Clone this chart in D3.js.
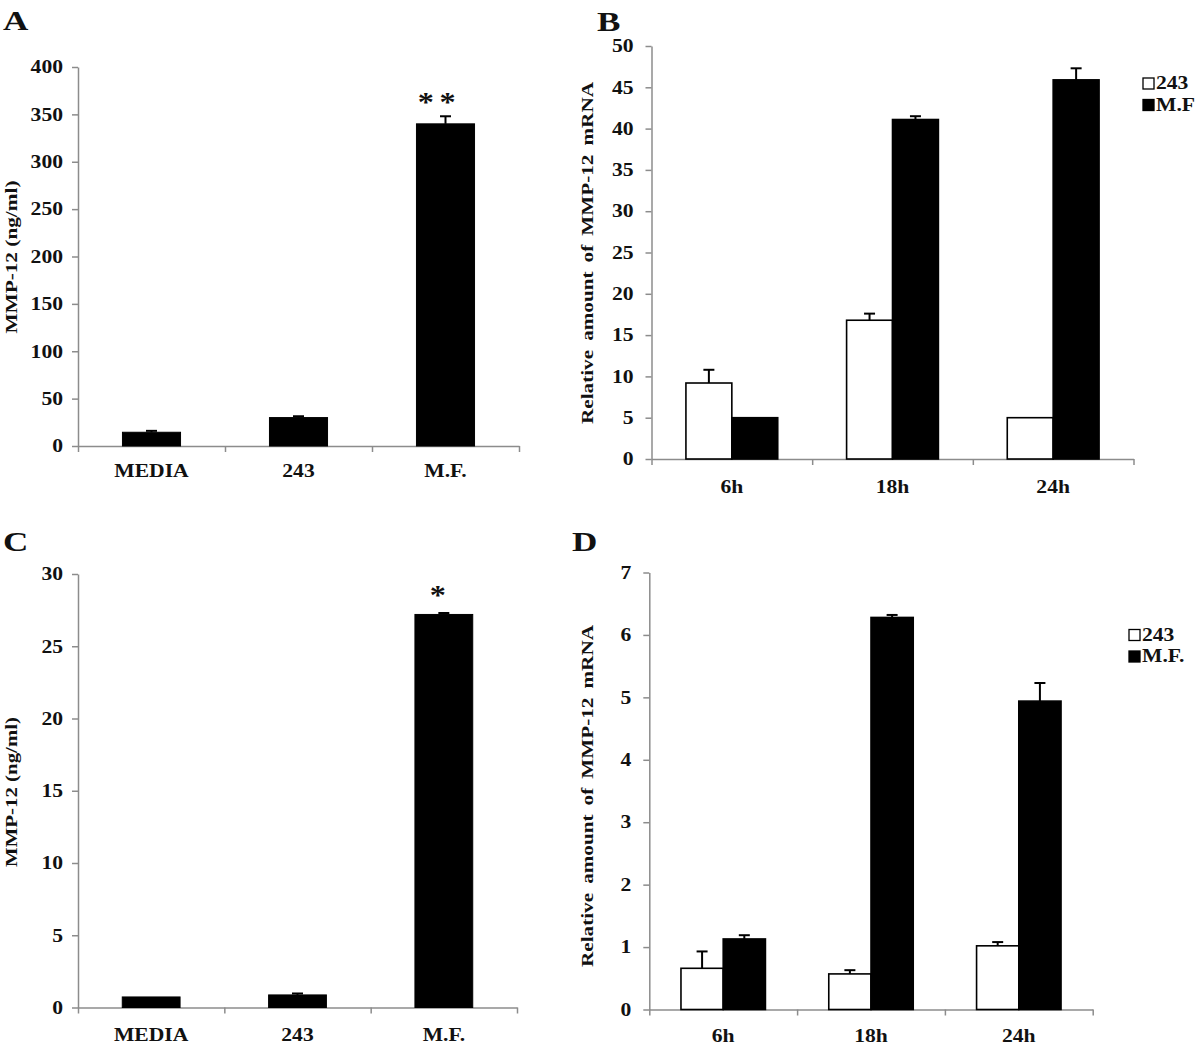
<!DOCTYPE html>
<html>
<head>
<meta charset="utf-8">
<script src="https://cdn.jsdelivr.net/npm/d3@7"></script>
<style>
  body { margin: 0; background: #fff; }
  svg { display: block; font-family: "Liberation Serif", "Times New Roman", serif; font-weight: bold; }
</style>
</head>
<body>
<svg></svg>
<script>
// MMP-12 protein (A, C) and mRNA (B, D)
const groups = ["MEDIA", "243", "M.F."];
const times = ["6h", "18h", "24h"];
const series = ["243", "M.F"];

const aMean = [14.5, 30, 340];
const aErr = [1.5, 1.4, 8];
const aTicks = [0, 50, 100, 150, 200, 250, 300, 350, 400];

const cMean = [0.73, 0.87, 27.2];
const cErr = [0, 0.1, 0.1];
const cTicks = [0, 5, 10, 15, 20, 25, 30];

const b243 = [9.2, 16.8, 5.0];
const b243Err = [1.6, 0.8, 0];
const bMF = [5.0, 41.1, 45.9];
const bMFErr = [0, 0.4, 1.4];
const bTicks = [0, 5, 10, 15, 20, 25, 30, 35, 40, 45, 50];

const d243 = [0.66, 0.57, 1.02];
const d243Err = [0.27, 0.06, 0.06];
const dMF = [1.13, 6.28, 4.94];
const dMFErr = [0.06, 0.04, 0.29];
const dTicks = [0, 1, 2, 3, 4, 5, 6, 7];

const svg = d3.select("svg").attr("width", 1200).attr("height", 1047);
const axisGrey = "#8c8c8c";

// the figure is stretched sideways, so widen glyphs a bit
function stretch(sel, k) {
  sel.each(function () {
    const w = this.getComputedTextLength();
    if (w > 0) {
      this.setAttribute("textLength", w * k);
      this.setAttribute("lengthAdjust", "spacingAndGlyphs");
    }
  });
}

function axes(p, cats) {
  const y = d3.scaleLinear().domain([0, p.max]).range([p.bottom, p.top]);
  const x0 = d3.scaleBand().domain(cats).range([p.left, p.right]);

  const gy = svg.append("g").attr("transform", `translate(${p.left},0)`)
    .call(d3.axisLeft(y).tickValues(p.ticks).tickFormat(d3.format("d"))
      .tickSize(6).tickSizeOuter(0).tickPadding(p.pad))
    .attr("font-family", null).attr("font-size", null);
  gy.selectAll("path, line").attr("stroke", axisGrey).attr("stroke-width", 1.5);
  gy.selectAll("text").attr("font-size", 18).attr("fill", "#111")
    .call(stretch, 1.2);

  // category boundaries get the tick marks
  const xb = d3.scaleLinear().domain([0, cats.length]).range([p.left, p.right]);
  const gb = svg.append("g").attr("transform", `translate(0,${p.bottom})`)
    .call(d3.axisBottom(xb).tickValues(d3.range(cats.length + 1)).tickFormat("").tickSize(6).tickSizeOuter(0));
  gb.selectAll("path, line").attr("stroke", axisGrey).attr("stroke-width", 1.5);

  const gx = svg.append("g").attr("transform", `translate(0,${p.bottom})`)
    .call(d3.axisBottom(x0).tickSize(0))
    .attr("font-family", null).attr("font-size", null);
  gx.select(".domain").remove();
  gx.selectAll("text").attr("font-size", 18).attr("fill", "#111")
    .attr("y", p.xOff).attr("dy", 0).call(stretch, 1.2);

  // panel letter
  const letter = svg.append("text").attr("x", p.letterX).attr("y", p.letterY)
    .attr("font-size", 27).attr("fill", "#111").text(p.letter);
  stretch(letter, 1.3);

  // y title
  svg.append("text")
    .attr("transform", `translate(${p.ylX},${p.ylY}) rotate(-90)`)
    .attr("text-anchor", "middle").attr("font-size", 17).attr("fill", "#111")
    .attr("word-spacing", p.wordSpacing || 0)
    .attr("textLength", p.ylLen).attr("lengthAdjust", "spacingAndGlyphs")
    .text(p.yLabel);

  return { x0, y };
}

function errBars(g, data, y) {
  g.selectAll("g.err").data(data.filter(d => d.e > 0)).join("g").attr("class", "err")
    .each(function (d) {
      const s = d3.select(this);
      s.append("line").attr("x1", d.cx).attr("x2", d.cx)
        .attr("y1", y(d.v)).attr("y2", y(d.v + d.e))
        .attr("stroke", "#000").attr("stroke-width", 2);
      s.append("line").attr("x1", d.cx - 5.5).attr("x2", d.cx + 5.5)
        .attr("y1", y(d.v + d.e)).attr("y2", y(d.v + d.e))
        .attr("stroke", "#000").attr("stroke-width", 2);
    });
}

function singlePanel(p, mean, err, star) {
  const { y } = axes(p, groups);
  const xb = d3.scaleBand().domain(groups).range([p.left, p.right])
    .paddingInner(0.605).paddingOuter(0.3025);
  const data = groups.map((k, i) => ({ k, v: mean[i], e: err[i], cx: xb(k) + xb.bandwidth() / 2 }));
  const g = svg.append("g");
  g.selectAll("rect").data(data).join("rect")
    .attr("x", d => xb(d.k)).attr("width", xb.bandwidth())
    .attr("y", d => y(d.v)).attr("height", d => y(0) - y(d.v))
    .attr("fill", "#000").attr("stroke", "#000").attr("stroke-width", 1);
  errBars(g, data, y);
  const last = data[data.length - 1];
  svg.append("text").attr("x", last.cx - 6).attr("y", p.starY)
    .attr("text-anchor", "middle").attr("font-size", 28).attr("fill", "#111")
    .attr("letter-spacing", star.length > 1 ? 5 : 0)
    .text(star).call(stretch, 1.15);
}

function groupedPanel(p, v243, e243, vMF, eMF, legendNames) {
  const { x0, y } = axes(p, times);
  const x1 = d3.scaleBand().domain(series).range([0, x0.bandwidth()])
    .paddingInner(0).paddingOuter(0.75);
  const fills = { "243": "#fff", "M.F": "#000" };
  const data = [];
  times.forEach((t, i) => {
    data.push({ t, s: "243", v: v243[i], e: e243[i] });
    data.push({ t, s: "M.F", v: vMF[i], e: eMF[i] });
  });
  data.forEach(d => d.cx = x0(d.t) + x1(d.s) + x1.bandwidth() / 2);
  const g = svg.append("g");
  g.selectAll("rect").data(data).join("rect")
    .attr("x", d => x0(d.t) + x1(d.s)).attr("width", x1.bandwidth())
    .attr("y", d => y(d.v)).attr("height", d => y(0) - y(d.v))
    .attr("fill", d => fills[d.s]).attr("stroke", "#000").attr("stroke-width", 1.6);
  errBars(g, data, y);

  const lg = svg.append("g").attr("transform", `translate(${p.legX},${p.legY})`);
  series.forEach((s, i) => {
    lg.append("rect").attr("x", 0).attr("y", i * 21.5 - 11).attr("width", 11).attr("height", 11)
      .attr("fill", fills[s]).attr("stroke", "#000").attr("stroke-width", 1.3);
    lg.append("text").attr("x", 13).attr("y", i * 21.5).attr("font-size", 18).attr("fill", "#111")
      .text(legendNames[i]).call(stretch, 1.2);
  });
}

singlePanel({
  left: 78, right: 519, top: 67, bottom: 446, max: 400, ticks: aTicks, pad: 9, xOff: 31,
  letter: "A", letterX: 3, letterY: 30, yLabel: "MMP-12 (ng/ml)", ylX: 17, ylY: 257, ylLen: 153,
  starY: 111
}, aMean, aErr, "**");

groupedPanel({
  left: 651.5, right: 1133.5, top: 46, bottom: 459, max: 50, ticks: bTicks, pad: 12, xOff: 34,
  letter: "B", letterX: 597, letterY: 31, yLabel: "Relative amount of MMP-12 mRNA", ylX: 593, ylY: 253, ylLen: 342,
  wordSpacing: 3, legX: 1143, legY: 89
}, b243, b243Err, bMF, bMFErr, ["243", "M.F"]);

singlePanel({
  left: 78, right: 517, top: 574, bottom: 1007.5, max: 30, ticks: cTicks, pad: 9, xOff: 33,
  letter: "C", letterX: 3, letterY: 551, yLabel: "MMP-12 (ng/ml)", ylX: 17, ylY: 792, ylLen: 150,
  starY: 604
}, cMean, cErr, "*");

groupedPanel({
  left: 649.3, right: 1092.7, top: 572.5, bottom: 1009.5, max: 7, ticks: dTicks, pad: 12, xOff: 32,
  letter: "D", letterX: 572, letterY: 551, yLabel: "Relative amount of MMP-12 mRNA", ylX: 593, ylY: 796, ylLen: 342,
  wordSpacing: 3, legX: 1129, legY: 640.5
}, d243, d243Err, dMF, dMFErr, ["243", "M.F."]);
</script>
</body>
</html>
